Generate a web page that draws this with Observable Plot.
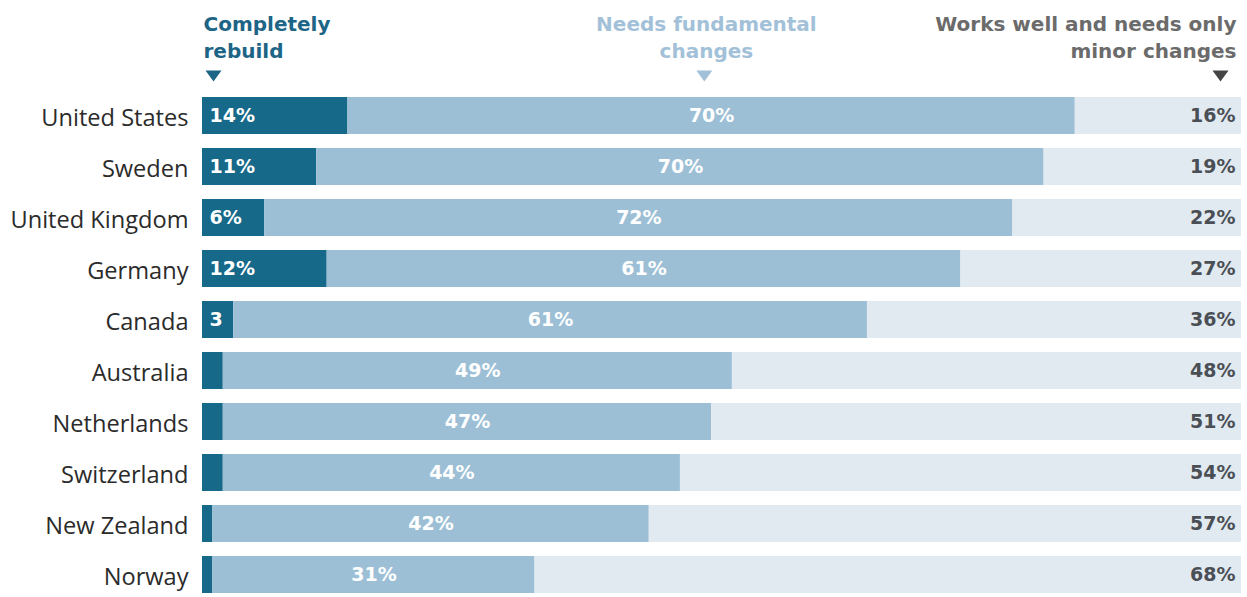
<!DOCTYPE html>
<html>
<head>
<meta charset="utf-8">
<script src="https://cdn.jsdelivr.net/npm/d3@7"></script>
<script src="https://cdn.jsdelivr.net/npm/@observablehq/plot@0.6"></script>
<style>
  html, body { margin: 0; padding: 0; background: #fff; }
  #chart svg { display: block; }
</style>
</head>
<body>
<div id="chart"></div>
<script>
const countries = ["United States", "Sweden", "United Kingdom", "Germany", "Canada", "Australia", "Netherlands", "Switzerland", "New Zealand", "Norway"];
const rebuild = [14, 11, 6, 12, 3, 2, 2, 2, 1, 1];
const rebuildLabels = ["14%", "11%", "6%", "12%", "3", "", "", "", "", ""];
const fundamental = [70, 70, 72, 61, 61, 49, 47, 44, 42, 31];
const minor = [16, 19, 22, 27, 36, 48, 51, 54, 57, 68];
const headers = ["Completely\nrebuild", "Needs fundamental\nchanges", "Works well and needs only\nminor changes"];

const colDark = "#17698a";
const colMid = "#9dbfd6";
const colLight = "#e2eaf1";
const total = 100;

const rows = countries.map((c, i) => ({
  country: c,
  rebuild: rebuild[i],
  rebuildLabel: rebuildLabels[i],
  fundamental: fundamental[i],
  minor: minor[i]
}));

const downTri = {
  draw(ctx) {
    ctx.moveTo(-8, -5.5);
    ctx.lineTo(8, -5.5);
    ctx.lineTo(0, 5.5);
    ctx.closePath();
  }
};

const font = "'Open Sans', 'DejaVu Sans', sans-serif";
const boldFont = "'DejaVu Sans', 'Open Sans', sans-serif";

const chart = Plot.plot({
  width: 1247,
  height: 597,
  marginLeft: 202,
  marginRight: 6,
  marginTop: 96,
  marginBottom: 3,
  style: { fontFamily: font, background: "#fff" },
  x: { domain: [0, total], axis: null },
  y: { domain: countries, paddingInner: 0.27, paddingOuter: 0, axis: null },
  marks: [
    Plot.axisY({ tickSize: 0, tickPadding: 14, fontSize: 23.6, dy: 2, color: "#2b2b2b", label: null, fontFamily: font }),
    Plot.barX(rows, { y: "country", x1: 0, x2: "rebuild", fill: colDark }),
    Plot.barX(rows, { y: "country", x1: "rebuild", x2: d => d.rebuild + d.fundamental, fill: colMid }),
    Plot.barX(rows, { y: "country", x1: d => d.rebuild + d.fundamental, x2: total, fill: colLight }),
    Plot.text(rows, { y: "country", x: 0, text: "rebuildLabel", textAnchor: "start", dx: 7, fill: "#fff", fontSize: 19, fontWeight: "bold", fontFamily: boldFont }),
    Plot.text(rows, { y: "country", x: d => d.rebuild + d.fundamental / 2, text: d => d.fundamental + "%", fill: "#fff", fontSize: 19, fontWeight: "bold", fontFamily: boldFont }),
    Plot.text(rows, { y: "country", x: total, text: d => d.minor + "%", textAnchor: "end", dx: -6, fill: "#4a4f55", fontSize: 19, fontWeight: "bold", fontFamily: boldFont }),
    // headers
    Plot.text([headers[0]], { x: 0, text: d => d, frameAnchor: "top", textAnchor: "start", lineAnchor: "top", dx: 1, dy: -85, lineHeight: 1.35, fontSize: 20, fontWeight: "bold", fill: "#1d6586", fontFamily: boldFont }),
    Plot.text([headers[1]], { x: 48.5, text: d => d, frameAnchor: "top", textAnchor: "middle", lineAnchor: "top", dy: -85, lineHeight: 1.35, fontSize: 20, fontWeight: "bold", fill: "#a2c1d8", fontFamily: boldFont }),
    Plot.text([headers[2]], { x: total, text: d => d, frameAnchor: "top", textAnchor: "end", lineAnchor: "top", dx: -5, dy: -85, lineHeight: 1.35, fontSize: 20, fontWeight: "bold", fill: "#6b6b6b", fontFamily: boldFont }),
    Plot.dot([headers[0]], { x: 0, dx: 11, frameAnchor: "top", dy: -20.5, symbol: downTri, fill: "#1d6586", stroke: null }),
    Plot.dot([headers[1]], { x: 48.3, frameAnchor: "top", dy: -20.5, symbol: downTri, fill: "#a2c1d8", stroke: null }),
    Plot.dot([headers[2]], { x: total, dx: -21, frameAnchor: "top", dy: -20.5, symbol: downTri, fill: "#444", stroke: null })
  ]
});

document.getElementById("chart").appendChild(chart);
</script>
</body>
</html>
